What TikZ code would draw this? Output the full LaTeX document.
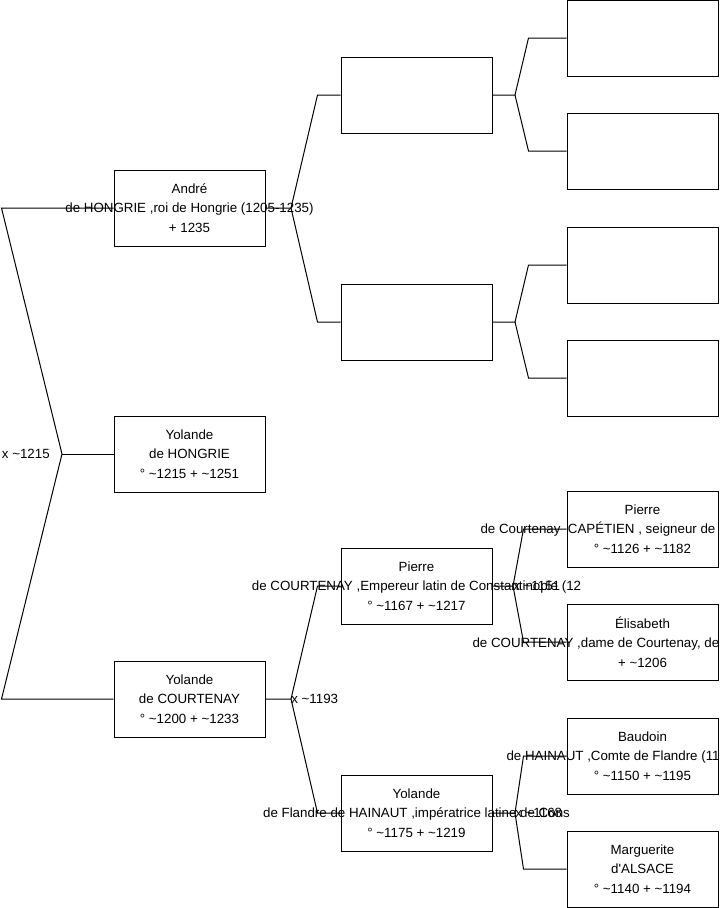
\documentclass[tikz,border=0pt]{standalone}
\usepackage{fontspec}
\setmainfont{Liberation Sans}
\usetikzlibrary{positioning}
\newcommand{\overrun}[1]{\makebox[0pt]{#1}}
\newcommand{\cutoff}[2]{\makebox[0pt]{\makebox[#1][l]{#2}}}

\begin{document}
\begin{tikzpicture}[
    x=0.75pt, y=-0.75pt,
    person/.style={draw, line width=0.75pt, minimum width=113.25pt, minimum height=57pt,
        inner sep=0pt, align=center, font=\fontsize{10}{14.5}\selectfont},
    link/.style={line width=0.75pt},
    wed/.style={inner sep=0pt, font=\fontsize{10}{14.5}\selectfont}
]
\useasboundingbox (0,0) rectangle (719,908);

% generation 1
\node[person] (andre) at (189.5,208) {André\\\overrun{de HONGRIE ,roi de Hongrie (1205-1235)}\\+ 1235};
\node[person] (yolhong) at (189.5,454) {Yolande\\de HONGRIE\\° \textasciitilde1215 + \textasciitilde1251};
\node[person] (yolcourt) at (189.5,699) {Yolande\\de COURTENAY\\° \textasciitilde1200 + \textasciitilde1233};

% generation 2
\node[person] (gpa) at (416.5,95) {};
\node[person] (gpb) at (416.5,322) {};
\node[person] (pierre) at (416.5,586) {Pierre\\\overrun{de COURTENAY ,Empereur latin de Constantinople (12}\\° \textasciitilde1167 + \textasciitilde1217};
\node[person] (yolfland) at (416.5,813) {Yolande\\\overrun{de Flandre de HAINAUT ,impératrice latine de Cons}\\° \textasciitilde1175 + \textasciitilde1219};

% generation 3
\node[person] (ggpa) at (642.5,38) {};
\node[person] (ggpb) at (642.5,151) {};
\node[person] (ggpc) at (642.5,265) {};
\node[person] (ggpd) at (642.5,378) {};
\node[person] (pcap) at (642.5,529) {Pierre\\\cutoff{243pt}{de Courtenay~ CAPÉTIEN , seigneur de}\\° \textasciitilde1126 + \textasciitilde1182};
\node[person] (elis) at (642.5,642) {Élisabeth\\\cutoff{255pt}{de COURTENAY ,dame de Courtenay, de}\\+ \textasciitilde1206};
\node[person] (baud) at (642.5,756) {Baudoin\\\cutoff{204pt}{de HAINAUT ,Comte de Flandre (11}\\° \textasciitilde1150 + \textasciitilde1195};
\node[person] (marg) at (642.5,869) {Marguerite\\d\textquotesingle ALSACE\\° \textasciitilde1140 + \textasciitilde1194};

% junctions
\coordinate (j0) at (62,454);
\coordinate (ja) at (291,208);
\coordinate (jc) at (291,699);
\coordinate (jga) at (515,95);
\coordinate (jgb) at (515,322);
\coordinate (jp) at (513,586);
\coordinate (jf) at (515,813);

% links
\draw[link] (andre.west) -- ++(-112,0) -- (j0);
\draw[link] (yolcourt.west) -- ++(-112,0) -- (j0);
\draw[link] (j0) -- (yolhong.west);

\draw[link] (gpa.west) -- ++(-23,0) -- (ja) -- (andre.east);
\draw[link] (gpb.west) -- ++(-23,0) -- (ja);
\draw[link] (pierre.west) -- ++(-23,0) -- (jc) -- (yolcourt.east);
\draw[link] (yolfland.west) -- ++(-23,0) -- (jc);

\draw[link] (ggpa.west) -- ++(-38,0) -- (jga) -- (gpa.east);
\draw[link] (ggpb.west) -- ++(-38,0) -- (jga);
\draw[link] (ggpc.west) -- ++(-38,0) -- (jgb) -- (gpb.east);
\draw[link] (ggpd.west) -- ++(-38,0) -- (jgb);
\draw[link] (pcap.west) -- ++(-43,0) -- (jp) -- (pierre.east);
\draw[link] (elis.west) -- ++(-43,0) -- (jp);
\draw[link] (baud.west) -- ++(-43,0) -- (jf) -- (yolfland.east);
\draw[link] (marg.west) -- ++(-43,0) -- (jf);

% marriages
\node[wed, left=9pt of j0] (w0) {x \textasciitilde1215};
\node[wed, right=0pt of jc] (wc) {x \textasciitilde1193};
\node[wed, right=0pt of jp] (wp) {x \textasciitilde1151};
\node[wed, right=0pt of jf] (wf) {x \textasciitilde1168};
\end{tikzpicture}
\end{document}
